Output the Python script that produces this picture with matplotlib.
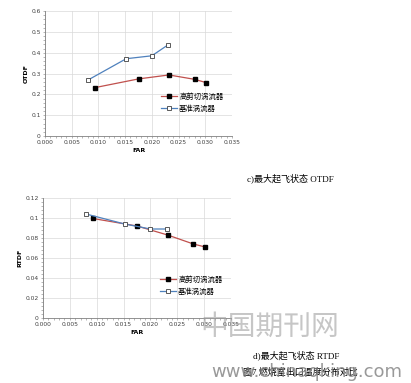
import matplotlib
matplotlib.use('Agg')
import matplotlib.pyplot as plt
from matplotlib.ticker import MultipleLocator

plt.rcParams['font.family'] = ['DejaVu Sans', 'Noto Sans CJK SC']

# data
far_high = [0.0093, 0.0175, 0.0232, 0.0280, 0.0302]
far_base = [0.0080, 0.0152, 0.0200, 0.0230]
otdf_high = [0.232, 0.274, 0.293, 0.272, 0.256]
otdf_base = [0.268, 0.371, 0.385, 0.437]
rtdf_high = [0.0995, 0.092, 0.083, 0.074, 0.071]
rtdf_base = [0.104, 0.094, 0.089, 0.089]
label_high = '高剪切涡流器'
label_base = '基准涡流器'
xticks = [0.000, 0.005, 0.010, 0.015, 0.020, 0.025, 0.030, 0.035]

W, H = 411, 383
fig = plt.figure(figsize=(W / 100, H / 100), dpi=100)


def px_axes(x0, y0, x1, y1):
    return fig.add_axes([x0 / W, 1 - y1 / H, (x1 - x0) / W, (y1 - y0) / H])


def style(ax, ymax, ystep, ylabel, yfmt, minor):
    ax.set_xlim(0, 0.035)
    ax.set_ylim(0, ymax)
    ax.set_xticks(xticks)
    ax.set_xticklabels([f'{t:.3f}' for t in xticks], fontsize=4.3, color='#404040')
    yt = [i * ystep for i in range(int(round(ymax / ystep)) + 1)]
    ax.set_yticks(yt)
    ax.set_yticklabels(['0'] + [yfmt(v) for v in yt[1:]], fontsize=4.3, color='#404040')
    ax.xaxis.set_minor_locator(MultipleLocator(0.001))
    ax.yaxis.set_minor_locator(MultipleLocator(minor))
    ax.grid(True, which='major', color='#d9d9d9', linewidth=0.5)
    ax.set_axisbelow(True)
    for s in ['top', 'right']:
        ax.spines[s].set_visible(False)
    for s in ['left', 'bottom']:
        ax.spines[s].set_color('#808080')
        ax.spines[s].set_linewidth(0.6)
    ax.tick_params(which='both', length=1.5, width=0.4, color='#808080', pad=1.5)
    ax.set_xlabel('FAR', fontsize=4.5, fontweight='bold', labelpad=2)
    ax.set_ylabel(ylabel, fontsize=4.5, fontweight='bold', labelpad=2)
    ax.legend(loc='lower right', bbox_to_anchor=(0.99, 0.14), frameon=False,
              fontsize=5.3, handlelength=2.2, labelspacing=0.6, handletextpad=0.3)


def plot_series(ax, yh, yb):
    ax.plot(far_high, yh, color='#c0504d', linewidth=0.9, marker='s', markersize=3.5,
            markerfacecolor='black', markeredgecolor='black', label=label_high)
    ax.plot(far_base, yb, color='#4f81bd', linewidth=0.9, marker='s', markersize=3.5,
            markerfacecolor='white', markeredgecolor='#404040', markeredgewidth=0.6,
            label=label_base)


ax1 = px_axes(45, 11, 232, 136)
plot_series(ax1, otdf_high, otdf_base)
style(ax1, 0.6, 0.1, 'OTDF', lambda v: f'{v:.1f}', 0.02)

ax2 = px_axes(43, 198, 231, 318)
plot_series(ax2, rtdf_high, rtdf_base)
style(ax2, 0.12, 0.02, 'RTDF', lambda v: f'{v:g}', 0.004)

cap_font = ['Liberation Serif', 'Noto Sans CJK SC']
fig.text(290 / W, 1 - 178 / H, 'c)最大起飞状态 OTDF', fontsize=6.5, family=cap_font,
         ha='center', va='center')
fig.text(296 / W, 1 - 355 / H, 'd)最大起飞状态 RTDF', fontsize=6.5, family=cap_font,
         ha='center', va='center')

# watermark
fig.text(270 / W, 1 - 327 / H, '中国期刊网', fontsize=20, family=['Noto Sans CJK SC'],
         color='#a0a0a0', alpha=0.6, ha='center', va='center')
fig.text(300 / W, 1 - 372 / H, '图7 燃烧室出口温度分布对比', fontsize=6.5, family=cap_font,
         ha='center', va='center')
fig.text(307 / W, 1 - 372 / H, 'www.chinaqking.com', fontsize=13,
         color='#808080', alpha=0.8, ha='center', va='center')

fig.savefig('out.png', dpi=100)
